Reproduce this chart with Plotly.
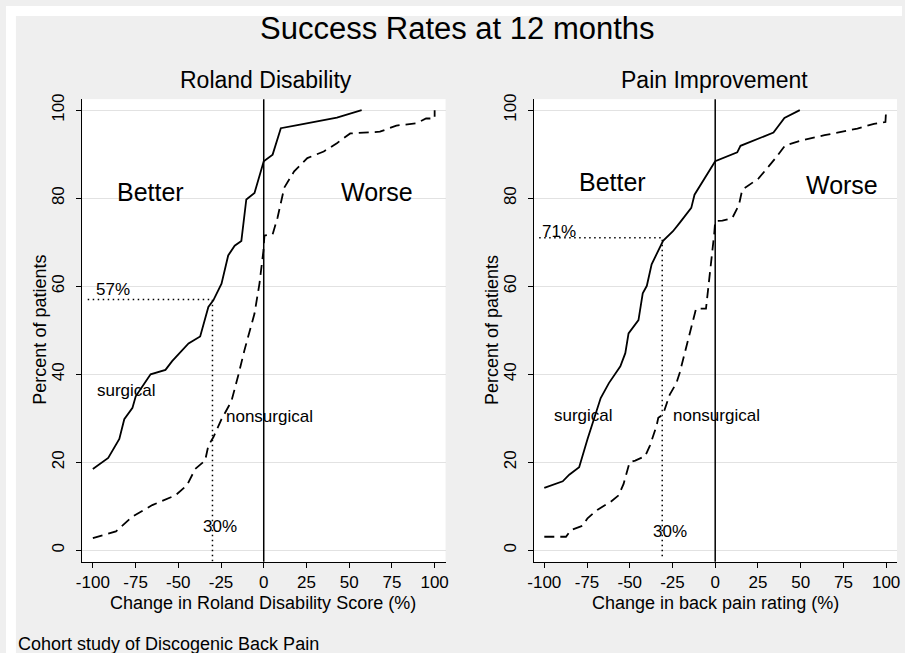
import plotly.graph_objects as go

# ---------------- data ----------------
x_ticks = [-100, -75, -50, -25, 0, 25, 50, 75, 100]
y_ticks = [0, 20, 40, 60, 80, 100]

roland_surg_x = [-100, -91, -84.5, -81.6, -76.8, -74.9, -66.2, -57.5, -53.6, -44, -37.2, -32.4,
                 -29.5, -24.7, -20.8, -17, -13.1, -10.2, -5.4, 0, 5.2, 10, 19.7, 42.8, 57.3]
roland_surg_y = [18.5, 21, 25.3, 29.8, 32.4, 35, 40, 41, 43, 47, 48.6, 55.3,
                 56.8, 60.6, 67, 69.2, 70.3, 79.7, 81.2, 88.4, 89.9, 95.9, 96.6, 98.3, 100]

roland_nonsurg_x = [-100, -86.5, -76.8, -65.2, -51.7, -44.9, -40.1, -34.3, -32.4, -29.5, -24.7,
                    -18.9, -15, -11.2, -5.4, -2.5, -0.2, 0.4, 5.2, 8.1, 12, 17.8, 25.5, 35.1,
                    42.8, 50.6, 68, 77.6, 89.2, 95, 100, 100]
roland_nonsurg_y = [2.8, 4.3, 7.7, 10.3, 12.5, 14.8, 18.5, 20.4, 23.8, 25.7, 29.8,
                    33.9, 39.6, 45.6, 53.8, 60.6, 68, 71.5, 71.8, 75.6, 82.4, 86.1, 89.1, 90.6,
                    92.5, 94.7, 95.1, 96.5, 97, 98.1, 98.1, 100]

pain_surg_x = [-100, -89.2, -85.4, -79.6, -74.7, -67, -62.2, -55.5, -52.6, -50.7, -44.9, -42.4,
               -40, -37.2, -30.5, -24.7, -20.8, -14, -12.1, -5.4, 0, 12.9, 14.8, 34.1, 40.5, 49.5]
pain_surg_y = [14.2, 15.7, 17.2, 18.9, 25.3, 34.6, 38, 41.8, 44.8, 49.3, 52.3, 58.4,
               60.1, 65, 70.3, 72.5, 74.4, 77.8, 80.8, 84.9, 88.4, 90.4, 91.9, 94.9, 98.2, 100]

pain_nonsurg_x = [-100, -87.3, -84.4, -77.6, -74.7, -69, -61.3, -56.5, -53.6, -50.1, -46.8, -41,
                  -38.2, -34.3, -33.3, -30.5, -26.6, -22.7, -20.8, -16.9, -12.1, -11.2, -5.4,
                  -3.9, -1.9, -0.6, 0, 4.2, 10, 13.9, 15.8, 25.4, 35.1, 40.9, 50.5, 64, 83.2,
                  92.9, 99.6, 100]
pain_nonsurg_y = [3.1, 3.1, 4.6, 5.6, 7.3, 9.2, 11, 12.5, 15.1, 20, 20.4, 21.4,
                  23.8, 28.3, 30.1, 30.9, 35.4, 38, 40.3, 46.3, 53, 54.9, 54.9,
                  59.8, 67.3, 71.8, 74.8, 74.9, 75.5, 78.5, 81.9, 84.5, 89, 92, 93.1, 94.3, 95.8,
                  96.9, 97.3, 100]

roland_threshold = -30
roland_rate = 57
pain_threshold = -31
pain_rate = 71

X_RANGE = [-106.2, 106.4]
Y_RANGE = [-2.6, 102.5]

# ---------------- figure ----------------
W, H = 905, 653
FONT = "Liberation Sans, Arial, sans-serif"


def px(p):
    return p / W


def py(p):
    return 1 - p / H


fig = go.Figure()

solid = dict(color="black", width=1.8)
dashed = dict(color="black", width=1.8, dash="10px,6px")
dotted = dict(color="black", width=1.5, dash="1.5px,3.5px")

# left panel
fig.add_trace(go.Scatter(x=roland_surg_x, y=roland_surg_y, mode="lines", line=solid,
                         xaxis="x", yaxis="y", hoverinfo="skip"))
fig.add_trace(go.Scatter(x=roland_nonsurg_x, y=roland_nonsurg_y, mode="lines", line=dashed,
                         xaxis="x", yaxis="y", hoverinfo="skip"))
fig.add_trace(go.Scatter(x=[-103, roland_threshold, roland_threshold],
                         y=[roland_rate, roland_rate, Y_RANGE[0]], mode="lines", line=dotted,
                         xaxis="x", yaxis="y", hoverinfo="skip"))
# right panel
fig.add_trace(go.Scatter(x=pain_surg_x, y=pain_surg_y, mode="lines", line=solid,
                         xaxis="x2", yaxis="y2", hoverinfo="skip"))
fig.add_trace(go.Scatter(x=pain_nonsurg_x, y=pain_nonsurg_y, mode="lines", line=dashed,
                         xaxis="x2", yaxis="y2", hoverinfo="skip"))
fig.add_trace(go.Scatter(x=[-103, pain_threshold, pain_threshold],
                         y=[pain_rate, pain_rate, Y_RANGE[0] + 0.6], mode="lines", line=dotted,
                         xaxis="x2", yaxis="y2", hoverinfo="skip"))

# vertical zero lines
for xr, yr in (("x", "y"), ("x2", "y2")):
    fig.add_shape(type="line", xref=xr, yref=yr + " domain", x0=0, x1=0, y0=0, y1=1,
                  line=dict(color="black", width=1.5), layer="above")

# white strips at the very top and left
fig.add_shape(type="rect", xref="paper", yref="paper", x0=0, x1=1, y0=py(10), y1=1,
              fillcolor="white", line=dict(width=0), layer="below")
fig.add_shape(type="rect", xref="paper", yref="paper", x0=0, x1=px(10), y0=0, y1=1,
              fillcolor="white", line=dict(width=0), layer="below")

xaxis_common = dict(range=X_RANGE, tickvals=x_ticks, ticktext=[str(v) for v in x_ticks],
                    showline=True, linecolor="black", linewidth=1, ticks="outside", ticklen=5,
                    tickcolor="black", showgrid=False, zeroline=False,
                    tickfont=dict(size=17, color="black", family=FONT), ticklabelstandoff=0)
yaxis_common = dict(range=Y_RANGE, tickvals=y_ticks, showline=True, linecolor="black", linewidth=1,
                    ticks="outside", ticklen=5, tickcolor="black", showgrid=True,
                    gridcolor="#e2e2e2", gridwidth=1, zeroline=False, tickangle=-90,
                    tickfont=dict(size=17, color="black", family=FONT), ticklabelstandoff=5)

ydom = [py(561), py(94)]
fig.update_layout(
    width=W, height=H,
    margin=dict(l=0, r=0, t=0, b=0),
    paper_bgcolor="#efefef", plot_bgcolor="white",
    showlegend=False,
    font=dict(family=FONT, color="black"),
    xaxis=dict(domain=[px(77), px(444)], anchor="y", **xaxis_common),
    yaxis=dict(domain=ydom, anchor="x", **yaxis_common),
    xaxis2=dict(domain=[px(533), px(900)], anchor="y2", **xaxis_common),
    yaxis2=dict(domain=ydom, anchor="x2", **yaxis_common),
)

ann = []


def paper_text(text, x, y, size, xanchor="center", angle=0):
    ann.append(dict(text=text, xref="paper", yref="paper", x=px(x), y=py(y), showarrow=False,
                    xanchor=xanchor, yanchor="middle", textangle=angle,
                    font=dict(size=size, color="black", family=FONT)))


def data_text(text, xr, yr, x, y, size, xanchor="center"):
    ann.append(dict(text=text, xref=xr, yref=yr, x=x, y=y, showarrow=False,
                    xanchor=xanchor, yanchor="middle",
                    font=dict(size=size, color="black", family=FONT)))


paper_text("Success Rates at 12 months", 456, 23, 31)
paper_text("Roland Disability", 263, 75, 23)
paper_text("Pain Improvement", 716, 75, 23)
paper_text("Percent of patients", 34, 327, 18, angle=-90)
paper_text("Percent of patients", 491, 327, 18, angle=-90)
paper_text("Change in Roland Disability Score (%)", 260, 603, 18)
paper_text("Change in back pain rating (%)", 717, 603, 18)
paper_text("Cohort study of Discogenic Back Pain", 10, 644, 18, xanchor="left")

# left panel labels
data_text("Better", "x", "y", -66.2, 81.4, 25)
data_text("Worse", "x", "y", 66.5, 81.5, 25)
data_text(f"{roland_rate}%", "x", "y", -88.2, 59.3, 17)
data_text("surgical", "x", "y", -80.3, 36.4, 17)
data_text("nonsurgical", "x", "y", 3.3, 30.5, 17)
data_text(f"{-roland_threshold}%", "x", "y", -25.8, 5.4, 17)
# right panel labels
data_text("Better", "x2", "y2", -59.8, 83.7, 25)
data_text("Worse", "x2", "y2", 74, 83, 25)
data_text(f"{pain_rate}%", "x2", "y2", -91.3, 72.4, 17)
data_text("surgical", "x2", "y2", -76.9, 30.6, 17)
data_text("nonsurgical", "x2", "y2", 0.8, 30.6, 17)
data_text("30%", "x2", "y2", -26.3, 4.3, 17)

fig.update_layout(annotations=ann)
fig.write_html(
    "out.html",
    config={"displayModeBar": False},
    post_script="document.body.style.margin='0';document.body.style.overflow='hidden';",
)
